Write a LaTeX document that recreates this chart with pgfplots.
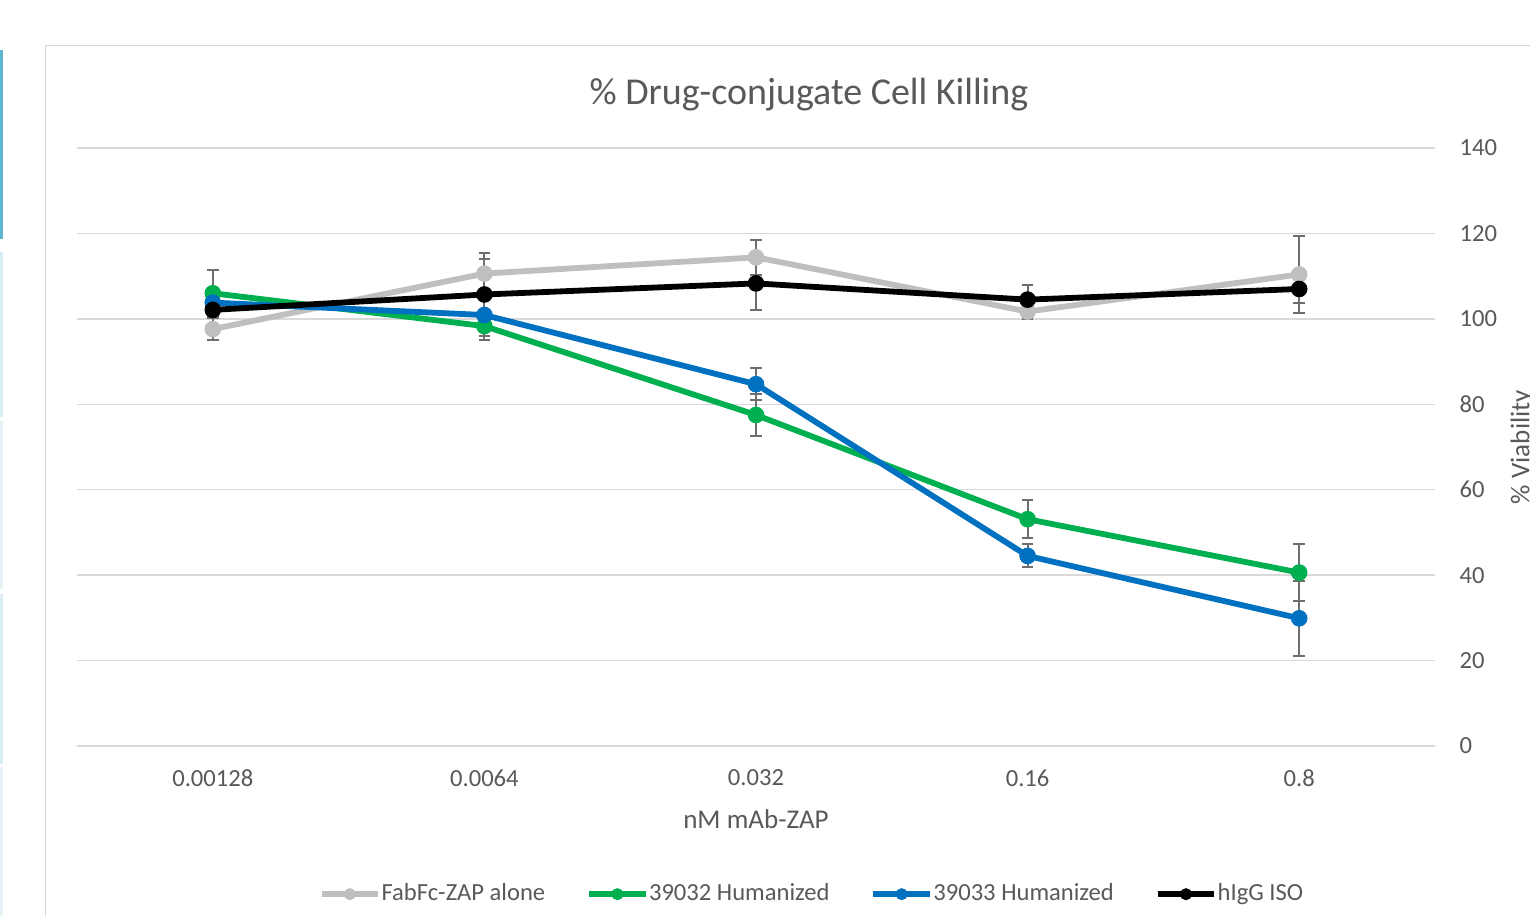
\documentclass[border=0pt]{standalone}
\usepackage{fontspec}
\setmainfont{Carlito}
\usepackage{pgfplots}
\pgfplotsset{compat=1.18}
\definecolor{txt}{RGB}{89,89,89}
\definecolor{gridc}{RGB}{217,217,217}
\definecolor{sgray}{RGB}{191,191,191}
\definecolor{sgreen}{RGB}{0,176,80}
\definecolor{sblue}{RGB}{0,112,192}
\definecolor{errc}{RGB}{110,110,110}
\definecolor{bord}{RGB}{214,214,214}
\definecolor{tealA}{RGB}{91,184,206}
\definecolor{tealB}{RGB}{218,236,243}
\definecolor{tealC}{RGB}{232,243,247}

\begin{document}
\begin{tikzpicture}
\path[use as bounding box] (0,0) rectangle (153mm,91.5mm);
\clip (0,0) rectangle (153mm,91.5mm);
\fill[white] (0,0) rectangle (153mm,91.5mm);
\fill[tealA] (0,86.5mm) rectangle (0.33mm,67.6mm);
\fill[tealB] (0,66.3mm) rectangle (0.33mm,49.8mm);
\fill[tealC] (0,49.4mm) rectangle (0.33mm,32.6mm);
\fill[tealB] (0,32.1mm) rectangle (0.33mm,15.1mm);
\fill[tealC] (0,14.8mm) rectangle (0.33mm,-1mm);
\draw[bord, line width=0.15mm] (4.55mm,-1mm) |- (160mm,86.95mm);
\begin{axis}[
  at={(7.7mm,16.9mm)}, anchor=south west,
  scale only axis, width=135.8mm, height=59.8mm,
  xmin=-0.5, xmax=4.5, ymin=0, ymax=140,
  axis x line=bottom, axis y line=right,
  axis line style={draw=none},
  xtick={0,1,2,3,4},
  xticklabels={0.00128,0.0064,0.032,0.16,0.8},
  ytick={0,20,...,140},
  major tick length=0pt, tick style={draw=none},
  ymajorgrids, grid style={gridc, line width=0.15mm},
  ticklabel style={font=\fontsize{7}{8}\selectfont, text=txt},
  /pgf/number format/assume math mode=true,
  xticklabel style={anchor=north, inner sep=0pt, yshift=-2.3mm},
  yticklabel style={anchor=west, inner sep=0pt, xshift=2.4mm},
  xlabel={nM mAb-ZAP},
  xlabel style={at={(axis description cs:0.5,-0.1221)}, anchor=center, inner sep=0pt, font=\fontsize{7.7}{9}\selectfont, text=txt},
  ylabel={\% Viability},
  ylabel style={at={(axis description cs:1.0552,0.5)}, anchor=north, rotate=0, inner sep=0pt, font=\fontsize{7.7}{9}\selectfont, text=txt},
  title={\% Drug-conjugate Cell Killing},
  title style={at={(axis description cs:0.539,1.0378)}, anchor=base, inner sep=0pt, font=\fontsize{10.8}{13}\selectfont, text=txt},
  legend columns=4,
  legend style={at={(axis description cs:0.178,-0.2478)}, anchor=west, draw=none, fill=none, inner sep=0pt, outer sep=0pt, font=\fontsize{7}{8}\selectfont, text=txt, nodes={inner sep=0pt}, /tikz/every odd column/.append style={column sep=0.05mm}, /tikz/every even column/.append style={column sep=4.1mm}},
  legend image code/.code={\draw[#1, mark size=0.55mm, mark repeat=2, mark phase=2] plot coordinates {(0mm,0mm) (2.825mm,0mm) (5.65mm,0mm)};},
  every axis plot/.append style={line width=0.58mm, mark=*, mark size=0.78mm, mark options={line width=0.1mm}},
  error bars/y dir=both, error bars/y explicit,
  error bars/error bar style={errc, line width=0.2mm},
  error bars/error mark options={errc, line width=0.2mm, mark size=0.58mm, rotate=90},
]
\addplot[sgray] table[x=x, y=y, y error=e] {
x y e
0 97.6 2.6
1 110.6 4.7
2 114.4 4.1
3 101.7 1.8
4 110.4 9.0
};
\addlegendentry{FabFc-ZAP alone}
\addplot[sgreen] table[x=x, y=y, y error=e] {
x y e
0 106.0 5.5
1 98.3 2.3
2 77.5 4.9
3 53.1 4.5
4 40.6 6.7
};
\addlegendentry{39032 Humanized}
\addplot[sblue] table[x=x, y=y, y error=e] {
x y e
0 103.8 1.5
1 100.9 5.9
2 84.7 3.8
3 44.5 2.7
4 29.9 8.8
};
\addlegendentry{39033 Humanized}
\addplot[black] table[x=x, y=y, y error=e] {
x y e
0 102.1 2.0
1 105.7 8.2
2 108.3 6.2
3 104.5 3.4
4 107.0 3.2
};
\addlegendentry{hIgG ISO}
\end{axis}
\end{tikzpicture}
\end{document}
